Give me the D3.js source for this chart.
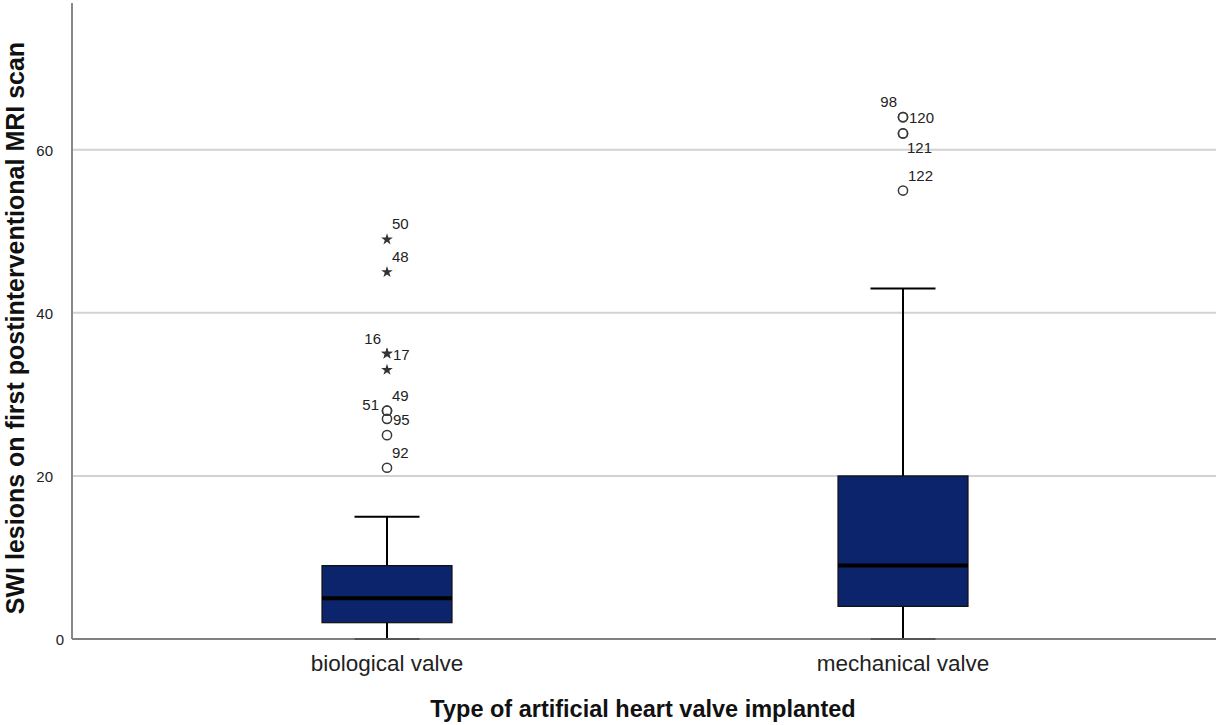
<!DOCTYPE html>
<html>
<head>
<meta charset="utf-8">
<script src="https://cdn.jsdelivr.net/npm/d3@7"></script>
<style>
  html, body { margin: 0; padding: 0; background: #fff; }
  svg { display: block; font-family: "Liberation Sans", Arial, sans-serif; }
</style>
</head>
<body>
<svg id="chart" width="1216" height="725"></svg>
<script>
// ---- data ----
const categories = ["biological valve", "mechanical valve"];
const whiskerLow  = [0, 0];
const q1          = [2, 4];
const median      = [5, 9];
const q3          = [9, 20];
const whiskerHigh = [15, 43];

const outlierCategory = ["biological valve","biological valve","biological valve","biological valve","biological valve",
                         "biological valve","biological valve","biological valve","biological valve","biological valve",
                         "mechanical valve","mechanical valve","mechanical valve","mechanical valve","mechanical valve"];
const outlierValue    = [21, 25, 27, 28, 28, 33, 35, 35, 45, 49, 55, 62, 62, 64, 64];
const outlierKind     = ["o","o","o","o","o","*","*","*","*","*","o","o","o","o","o"];
const outlierLabel    = ["92","","95","49","51","","17","16","48","50","122","121","","120","98"];
const labelPlacement  = ["ur","","r","ur","l","","r","ul","ur","ur","ur","dr","","r","ul"];

const yTicks = [0, 20, 40, 60];
const yTitle = "SWI lesions on first postinterventional MRI scan";
const xTitle = "Type of artificial heart valve implanted";

// ---- layout ----
const svg = d3.select("#chart");
const W = 1216;
const axisX = 72, axisY = 639;

const y = d3.scaleLinear().domain([0, 78]).range([639, 3]);
const x = d3.scalePoint().domain(categories).range([387, 903]);
const boxW = 130, capW = 65;

// gridlines
svg.append("g").selectAll("line")
  .data(yTicks.filter(t => t > 0))
  .join("line")
  .attr("x1", axisX).attr("x2", W)
  .attr("y1", d => y(d)).attr("y2", d => y(d))
  .attr("stroke", "#d2d2d2").attr("stroke-width", 2);

// y axis tick labels
const yAxis = d3.axisLeft(y).tickValues(yTicks).tickSize(0).tickPadding(0).tickFormat(d3.format("d"));
const gy = svg.append("g").attr("transform", `translate(${axisX},0)`).call(yAxis);
gy.select(".domain").remove();
gy.selectAll("text")
  .attr("x", d => d === 0 ? -8 : -19)
  .attr("dy", "0.35em")
  .attr("font-size", 15)
  .attr("font-family", "'Liberation Sans', Arial, sans-serif")
  .attr("fill", "#222");

// axis lines
svg.append("line").attr("x1", axisX).attr("x2", axisX).attr("y1", y(78)).attr("y2", axisY)
  .attr("stroke", "#888").attr("stroke-width", 2);
svg.append("line").attr("x1", axisX).attr("x2", W).attr("y1", axisY).attr("y2", axisY)
  .attr("stroke", "#808080").attr("stroke-width", 2);

// boxes
const boxes = categories.map((c, i) => ({c, lo: whiskerLow[i], q1: q1[i], med: median[i], q3: q3[i], hi: whiskerHigh[i]}));
const gb = svg.append("g");
boxes.forEach(b => {
  const cx = x(b.c);
  gb.append("line").attr("x1", cx).attr("x2", cx).attr("y1", y(b.q3)).attr("y2", y(b.hi))
    .attr("stroke", "#000").attr("stroke-width", 2);
  gb.append("line").attr("x1", cx).attr("x2", cx).attr("y1", y(b.q1)).attr("y2", y(b.lo))
    .attr("stroke", "#000").attr("stroke-width", 2);
  gb.append("line").attr("x1", cx - capW/2).attr("x2", cx + capW/2).attr("y1", y(b.hi)).attr("y2", y(b.hi))
    .attr("stroke", "#000").attr("stroke-width", 2);
  gb.append("line").attr("x1", cx - capW/2).attr("x2", cx + capW/2).attr("y1", y(b.lo)).attr("y2", y(b.lo))
    .attr("stroke", "#555").attr("stroke-width", 2);
  gb.append("rect").attr("x", cx - boxW/2).attr("width", boxW)
    .attr("y", y(b.q3)).attr("height", y(b.q1) - y(b.q3))
    .attr("fill", "#0b246b").attr("stroke", "#111").attr("stroke-width", 1.2);
  gb.append("line").attr("x1", cx - boxW/2).attr("x2", cx + boxW/2).attr("y1", y(b.med)).attr("y2", y(b.med))
    .attr("stroke", "#000").attr("stroke-width", 4);
});

// outliers
const outliers = outlierValue.map((v, i) => ({
  c: outlierCategory[i], v, kind: outlierKind[i], label: outlierLabel[i], place: labelPlacement[i]
}));
const go = svg.append("g");
const star = d3.symbol().type(d3.symbolStar).size(42);
outliers.forEach(o => {
  const px = x(o.c), py = y(o.v);
  if (o.kind === "o") {
    go.append("circle").attr("cx", px).attr("cy", py).attr("r", 4.6)
      .attr("fill", "none").attr("stroke", "#3a3a3a").attr("stroke-width", 1.5);
  } else {
    go.append("path").attr("d", star()).attr("transform", `translate(${px},${py})`)
      .attr("fill", "#333");
  }
});
const offs = { ur: [5, -10, "start"], r: [6, 6, "start"], ul: [-6, -10, "end"], l: [-8, -1, "end"], dr: [4, 20, "start"] };
outliers.filter(o => o.label).forEach(o => {
  const [dx, dy, anchor] = offs[o.place];
  go.append("text").attr("x", x(o.c) + dx).attr("y", y(o.v) + dy)
    .attr("text-anchor", anchor).attr("font-size", 15).attr("fill", "#222")
    .text(o.label);
});

// category labels
svg.append("g").selectAll("text").data(categories).join("text")
  .attr("x", d => x(d)).attr("y", 671)
  .attr("text-anchor", "middle").attr("font-size", 22.5).attr("fill", "#222")
  .text(d => d);

// axis titles
svg.append("text").attr("x", 643).attr("y", 717).attr("text-anchor", "middle")
  .attr("font-size", 23.5).attr("font-weight", "bold").attr("fill", "#111").text(xTitle);
svg.append("text").attr("transform", "translate(24,328) rotate(-90)").attr("text-anchor", "middle")
  .attr("font-size", 25).attr("font-weight", "bold").attr("fill", "#111").text(yTitle);
</script>
</body>
</html>
